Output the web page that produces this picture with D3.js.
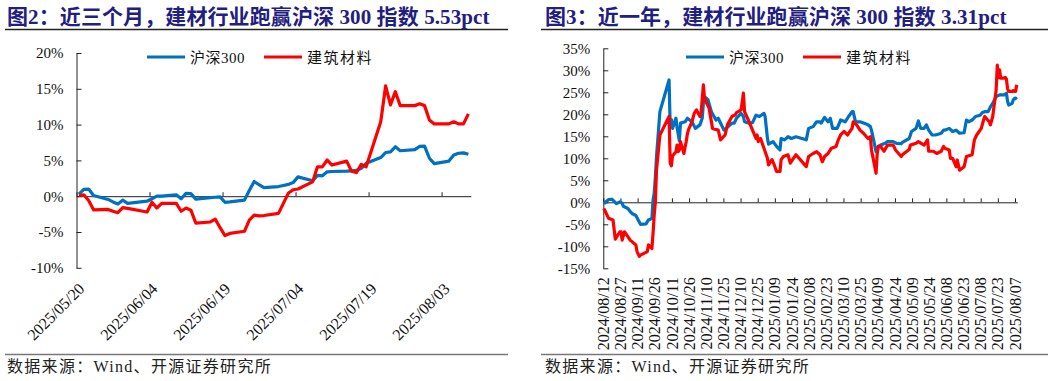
<!DOCTYPE html>
<html>
<head>
<meta charset="utf-8">
<script src="https://cdn.jsdelivr.net/npm/d3@7"></script>
<style>
html,body{margin:0;padding:0;background:#fff;}
svg{display:block;}
text{font-family:"Liberation Serif","Times New Roman","Noto Sans CJK SC",serif;}
</style>
</head>
<body>
<svg id="chart" width="1057" height="381"></svg>
<script>
// ---------------- data ----------------
const seriesNames = ["沪深300", "建筑材料"];
const seriesColors = ["#0070C0", "#FF0000"];

// Chart 2 (last three months)
const title2 = "图2：近三个月，建材行业跑赢沪深 300 指数 5.53pct";
const qDates = ["2025-05-20","2025-05-21","2025-05-22","2025-05-23","2025-05-26","2025-05-27","2025-05-28","2025-05-29","2025-05-30",
"2025-06-03","2025-06-04","2025-06-05","2025-06-06","2025-06-09","2025-06-10","2025-06-11","2025-06-12","2025-06-13","2025-06-16","2025-06-17","2025-06-18","2025-06-19","2025-06-20","2025-06-23","2025-06-24","2025-06-25","2025-06-26","2025-06-27","2025-06-30",
"2025-07-01","2025-07-02","2025-07-03","2025-07-04","2025-07-07","2025-07-08","2025-07-09","2025-07-10","2025-07-11","2025-07-14","2025-07-15","2025-07-16","2025-07-17","2025-07-18","2025-07-21","2025-07-22","2025-07-23","2025-07-24","2025-07-25","2025-07-28","2025-07-29","2025-07-30","2025-07-31",
"2025-08-01","2025-08-04","2025-08-05","2025-08-06","2025-08-07","2025-08-08"];
const qHs300 = [0.3,0.95,1.0,0.1,-0.45,-0.8,-1.1,-0.55,-1.0,
-0.7,-0.35,0.0,0.0,0.2,-0.35,0.4,0.35,-0.4,-0.2,-0.15,-0.1,-0.85,-0.8,-0.55,0.8,2.05,1.6,1.2,1.35,
1.5,1.65,1.9,2.7,2.15,2.9,2.85,3.4,3.45,3.5,3.55,3.6,3.9,4.6,5.4,6.1,6.2,6.9,6.35,6.5,6.95,7.0,5.3,
4.55,4.9,5.75,6.0,6.05,5.85];
const qJcai = [0.1,0.2,-0.6,-1.9,-1.85,-2.1,-2.3,-1.6,-1.7,
-2.2,-0.85,-1.65,-1.0,-1.0,-2.1,-1.65,-1.95,-3.75,-3.6,-3.2,-4.4,-5.5,-5.2,-4.9,-3.35,-2.65,-2.75,-2.7,-2.4,
-1.0,0.4,0.9,1.0,2.0,4.1,4.1,5.05,4.35,4.9,3.5,3.3,4.45,4.1,10.4,15.4,12.75,14.6,12.65,12.65,12.9,12.65,10.65,
10.1,10.1,10.4,10.1,10.1,11.5];
const qTickLabels = ["2025/05/20","2025/06/04","2025/06/19","2025/07/04","2025/07/19","2025/08/03"];
const qYTicks = [-10,-5,0,5,10,15,20];

// Chart 3 (last year)
const title3 = "图3：近一年，建材行业跑赢沪深 300 指数 3.31pct";
const yHsDates = ["2024-08-12","2024-08-14","2024-08-16","2024-08-19","2024-08-21","2024-08-23","2024-08-26","2024-08-28","2024-08-29",
"2024-09-02","2024-09-04","2024-09-06","2024-09-09","2024-09-11","2024-09-13","2024-09-18","2024-09-19","2024-09-20","2024-09-23","2024-09-24","2024-09-25","2024-09-26","2024-09-27","2024-09-30",
"2024-10-08","2024-10-09","2024-10-10","2024-10-11","2024-10-14","2024-10-15","2024-10-17","2024-10-18","2024-10-22","2024-10-24","2024-10-28","2024-10-31",
"2024-11-04","2024-11-06","2024-11-07","2024-11-08","2024-11-11","2024-11-14","2024-11-18","2024-11-20","2024-11-25","2024-11-27",
"2024-12-02","2024-12-04","2024-12-06","2024-12-10","2024-12-12","2024-12-13","2024-12-17","2024-12-20","2024-12-23","2024-12-26","2024-12-30","2024-12-31",
"2025-01-02","2025-01-03","2025-01-07","2025-01-10","2025-01-13","2025-01-14","2025-01-17","2025-01-20","2025-01-23","2025-01-27",
"2025-02-05","2025-02-07","2025-02-11","2025-02-14","2025-02-17","2025-02-18","2025-02-21","2025-02-24","2025-02-26","2025-02-28",
"2025-03-04","2025-03-07","2025-03-11","2025-03-14","2025-03-17","2025-03-18","2025-03-20","2025-03-24","2025-03-27","2025-03-31",
"2025-04-02","2025-04-03","2025-04-07","2025-04-09","2025-04-11","2025-04-15","2025-04-17","2025-04-22","2025-04-25","2025-04-29","2025-04-30",
"2025-05-06","2025-05-08","2025-05-12","2025-05-14","2025-05-16","2025-05-19","2025-05-21","2025-05-23","2025-05-26","2025-05-29",
"2025-06-03","2025-06-05","2025-06-06","2025-06-10","2025-06-13","2025-06-16","2025-06-19","2025-06-23","2025-06-25","2025-06-27","2025-06-30",
"2025-07-03","2025-07-07","2025-07-09","2025-07-11","2025-07-14","2025-07-16","2025-07-18","2025-07-21","2025-07-24","2025-07-28","2025-07-30","2025-07-31",
"2025-08-01","2025-08-04","2025-08-05","2025-08-06","2025-08-07","2025-08-08"];
const yHs300 = [-0.4,0.2,0.6,0.7,0.2,-0.3,0.1,-0.2,-0.9,
-1.4,-2.1,-2.6,-3.0,-4.0,-5.0,-4.9,-4.4,-4.0,-3.7,0.5,2.0,5.6,10.3,20.6,
27.8,17.2,18.8,16.8,19.1,17.0,14.0,18.0,18.3,19.1,18.3,16.8,
17.6,19.1,22.5,24.0,23.3,20.6,18.7,19.1,16.4,16.8,
18.0,18.0,19.1,20.2,19.5,18.3,18.0,18.1,19.8,19.5,20.2,19.5,
14.6,13.2,13.8,12.7,11.9,14.5,14.2,14.9,14.5,14.9,
14.2,16.8,17.2,18.3,18.3,18.0,19.3,18.3,19.1,16.8,
16.8,18.7,18.3,19.5,20.6,20.6,18.3,18.3,18.0,17.6,
17.2,16.4,11.5,12.7,13.0,13.4,13.8,13.8,13.4,13.3,13.6,
14.5,16.1,16.8,18.5,16.8,16.8,17.6,16.4,15.3,15.3,
15.7,16.4,16.4,16.8,16.1,16.4,15.7,15.8,18.7,18.3,18.7,
19.5,19.8,20.4,20.6,20.6,21.7,22.5,24.0,24.4,24.4,24.8,22.9,
22.1,22.5,23.3,23.6,23.7,23.4];

const yJcDates = ["2024-08-12","2024-08-14","2024-08-16","2024-08-20","2024-08-22","2024-08-26","2024-08-27","2024-08-28","2024-08-30",
"2024-09-02","2024-09-04","2024-09-09","2024-09-10","2024-09-12","2024-09-13","2024-09-19","2024-09-20","2024-09-23","2024-09-24","2024-09-25","2024-09-26","2024-09-27","2024-09-30",
"2024-10-08","2024-10-09","2024-10-10","2024-10-11","2024-10-14","2024-10-15","2024-10-16","2024-10-17","2024-10-18","2024-10-21","2024-10-22","2024-10-23","2024-10-24","2024-10-25","2024-10-28","2024-10-30",
"2024-11-01","2024-11-04","2024-11-05","2024-11-07","2024-11-08","2024-11-12","2024-11-15","2024-11-20","2024-11-22","2024-11-26","2024-11-28",
"2024-12-02","2024-12-05","2024-12-06","2024-12-10","2024-12-12","2024-12-13","2024-12-17","2024-12-20","2024-12-23","2024-12-24","2024-12-25","2024-12-27","2024-12-30",
"2025-01-02","2025-01-03","2025-01-06","2025-01-08","2025-01-10","2025-01-13","2025-01-14","2025-01-16","2025-01-20","2025-01-22","2025-01-24","2025-01-27",
"2025-02-05","2025-02-07","2025-02-11","2025-02-14","2025-02-17","2025-02-19","2025-02-21","2025-02-24","2025-02-27",
"2025-03-03","2025-03-05","2025-03-07","2025-03-10","2025-03-13","2025-03-17","2025-03-18","2025-03-21","2025-03-24","2025-03-27","2025-03-31",
"2025-04-02","2025-04-03","2025-04-07","2025-04-08","2025-04-09","2025-04-11","2025-04-14","2025-04-17","2025-04-22","2025-04-24","2025-04-29","2025-04-30",
"2025-05-06","2025-05-07","2025-05-12","2025-05-14","2025-05-19","2025-05-22","2025-05-23","2025-05-27","2025-05-30",
"2025-06-03","2025-06-05","2025-06-06","2025-06-10","2025-06-11","2025-06-13","2025-06-16","2025-06-17","2025-06-19","2025-06-23","2025-06-25","2025-06-30",
"2025-07-02","2025-07-04","2025-07-08","2025-07-10","2025-07-11","2025-07-15","2025-07-16","2025-07-18","2025-07-21","2025-07-22","2025-07-23","2025-07-24","2025-07-25","2025-07-28","2025-07-29","2025-07-30","2025-07-31",
"2025-08-01","2025-08-04","2025-08-05","2025-08-06","2025-08-07","2025-08-08"];
const yJcai = [-1.4,-2.5,-3.6,-4.0,-8.4,-6.7,-6.7,-8.6,-6.7,
-7.8,-8.6,-9.7,-11.2,-12.3,-12.0,-11.2,-9.7,-10.5,-7.0,-3.0,0.0,7.3,15.3,
19.5,8.9,8.3,10.5,11.5,13.0,11.5,11.9,13.8,11.1,12.5,13.8,15.5,16.5,18.3,20.2,
21.0,19.5,20.2,26.7,23.6,21.4,16.8,16.4,14.2,15.3,17.6,
19.5,19.9,20.4,21.0,24.8,20.6,18.3,16.4,14.5,15.3,13.8,14.5,12.3,
10.0,8.5,9.7,8.5,7.0,7.0,9.7,10.4,10.8,8.9,9.7,10.8,
8.1,10.4,11.1,11.5,10.8,9.2,10.4,11.1,12.3,
12.7,14.2,15.3,16.1,15.3,16.8,18.3,17.6,16.4,15.7,14.5,
14.9,11.9,6.6,11.0,12.7,12.7,11.6,13.0,13.0,11.9,10.4,10.8,
12.0,13.0,13.4,13.8,13.0,14.2,11.6,11.6,11.1,
11.6,12.7,12.3,11.9,10.0,10.0,8.1,9.6,7.3,8.1,10.4,10.8,
14.2,15.3,16.8,18.7,19.5,18.3,17.6,19.5,25.5,31.2,28.3,30.1,28.2,28.2,28.4,28.0,25.8,
25.2,25.2,25.4,25.2,25.2,26.7];
const yTickLabels = ["2024/08/12","2024/08/27","2024/09/11","2024/09/26","2024/10/11","2024/10/26","2024/11/10","2024/11/25","2024/12/10","2024/12/25",
"2025/01/09","2025/01/24","2025/02/08","2025/02/23","2025/03/10","2025/03/25","2025/04/09","2025/04/24","2025/05/09","2025/05/24",
"2025/06/08","2025/06/23","2025/07/08","2025/07/23","2025/08/07"];
const yYTicks = [-15,-10,-5,0,5,10,15,20,25,30,35];

const source = "数据来源：Wind、开源证券研究所";

// ---------------- drawing ----------------
const svg = d3.select("#chart");
const parseD = d3.utcParse("%Y-%m-%d");
const parseT = d3.utcParse("%Y/%m/%d");
const halfDay = d => d3.utcHour.offset(d, 12);

function panel(cfg) {
  const g = svg.append("g");
  // title
  g.append("text").attr("x", cfg.titleX).attr("y", 24)
    .attr("fill", "#1f2080").attr("font-size", 21).attr("font-weight", "bold")
    .attr("letter-spacing", 0.1)
    .text(cfg.title);
  g.append("line").attr("x1", cfg.frameX1).attr("x2", cfg.frameX2).attr("y1", 29.5).attr("y2", 29.5)
    .attr("stroke", "#222").attr("stroke-width", 1.3);
  g.append("line").attr("x1", cfg.frameX1).attr("x2", cfg.frameX2).attr("y1", 354.5).attr("y2", 354.5)
    .attr("stroke", "#777").attr("stroke-width", 1.6);
  g.append("text").attr("x", cfg.titleX).attr("y", 372)
    .attr("fill", "#222").attr("font-size", 16).attr("letter-spacing", 1.3)
    .text(source);

  const x = d3.scaleUtc().domain(cfg.xDomain.map(parseD)).range(cfg.xRange);
  const y = d3.scaleLinear().domain(cfg.yDomain).range(cfg.yRange);
  const tickDates = cfg.tickLabels.map(parseT);

  // y axis
  const ya = g.append("g").attr("transform", `translate(${cfg.xRange[0]},0)`)
    .call(d3.axisLeft(y).tickValues(cfg.yTicks).tickSizeInner(-5).tickSizeOuter(0)
      .tickPadding(13).tickFormat(v => v + "%"));
  ya.select(".domain").attr("stroke", "#222");
  ya.selectAll(".tick line").attr("stroke", "#222");
  ya.selectAll(".tick text").attr("font-size", 15).attr("fill", "#111")
    .attr("font-family", "'Liberation Serif','Times New Roman',serif");

  // x axis at zero
  const xa = g.append("g").attr("transform", `translate(0,${y(0)})`)
    .call(d3.axisBottom(x).tickValues(tickDates).tickSizeInner(-4).tickSizeOuter(0).tickFormat(""));
  xa.select(".domain").attr("stroke", "#222");
  xa.selectAll(".tick line").attr("stroke", "#222");

  // x labels at bottom
  const lblY = cfg.yRange[0] + cfg.labelGap;
  g.append("g").selectAll("text").data(cfg.tickLabels).join("text")
    .attr("font-size", 16).attr("fill", "#111")
    .attr("font-family", "'Liberation Serif','Times New Roman',serif")
    .attr("text-anchor", "end")
    .attr("transform", (d, i) => `translate(${x(tickDates[i]) + cfg.labelDx},${lblY}) rotate(${cfg.labelRot})`)
    .attr("dy", cfg.labelDy)
    .text(d => d);

  // lines
  const line = d3.line().x(d => x(halfDay(d[0]))).y(d => y(d[1])).curve(d3.curveLinear);
  cfg.series.forEach((s, i) => {
    const pts = s.dates.map((dt, j) => [parseD(dt), s.values[j]]);
    g.append("path").datum(pts).attr("d", line).attr("fill", "none")
      .attr("stroke", seriesColors[i]).attr("stroke-width", 3.2)
      .attr("stroke-linejoin", "round").attr("stroke-linecap", "butt");
  });

  // legend
  const lg = g.append("g");
  seriesNames.forEach((n, i) => {
    const lx = cfg.legendX[i];
    lg.append("line").attr("x1", lx).attr("x2", lx + 38).attr("y1", 57).attr("y2", 57)
      .attr("stroke", seriesColors[i]).attr("stroke-width", 3.2);
    lg.append("text").attr("x", lx + 43).attr("y", 62.5).attr("font-size", 15).attr("fill", "#111")
      .attr("letter-spacing", i === 1 ? 1.5 : 0.5)
      .text(n);
  });
}

panel({
  title: title2, titleX: 7, frameX1: 5, frameX2: 508,
  xDomain: ["2025-05-20", "2025-08-09"], xRange: [76.5, 470.8],
  yDomain: [-10, 20], yRange: [267.8, 53], yTicks: qYTicks,
  tickLabels: qTickLabels, labelGap: 18, labelDx: 5, labelRot: -45, labelDy: "0.35em",
  legendX: [147, 264],
  series: [{dates: qDates, values: qHs300}, {dates: qDates, values: qJcai}]
});

panel({
  title: title3, titleX: 545, frameX1: 541, frameX2: 1048,
  xDomain: ["2024-08-12", "2025-08-09"], xRange: [603.3, 1017.3],
  yDomain: [-15, 35], yRange: [268.3, 48.3], yTicks: yYTicks,
  tickLabels: yTickLabels, labelGap: 9, labelDx: 0, labelRot: -90, labelDy: "0.35em",
  legendX: [686, 803],
  series: [{dates: yHsDates, values: yHs300}, {dates: yJcDates, values: yJcai}]
});
</script>
</body>
</html>
